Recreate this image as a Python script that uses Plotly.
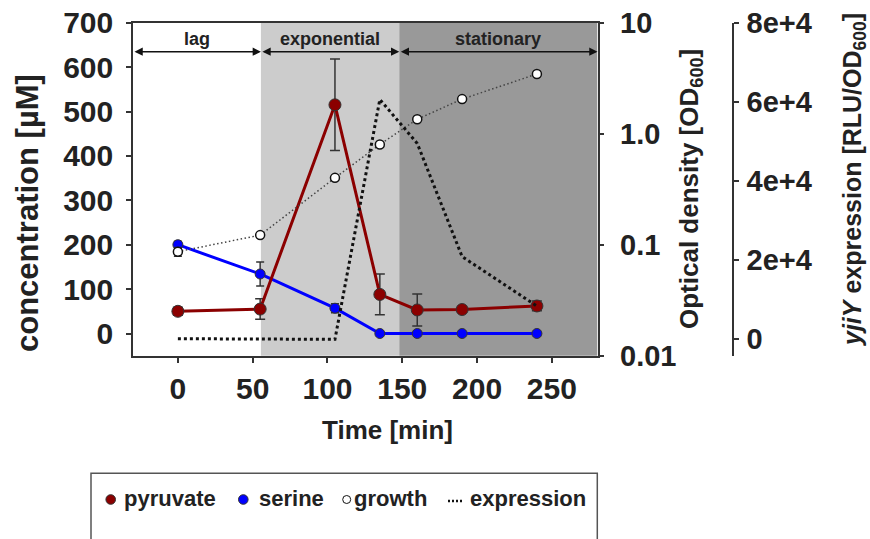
import plotly.graph_objects as go

# ---------------- data ----------------
time_min = [0, 55, 105, 135, 160, 190, 240]
pyruvate = [50, 55, 515, 88, 53, 54, 62]
pyruvate_err = [9, 23, 103, 46, 36, 3, 11]
serine = [200, 134, 57, 0, 0, 0, 0]
serine_err = [8, 27, 10, 0, 0, 0, 0]
growth_od = [0.0865, 0.122, 0.40, 0.80, 1.35, 2.05, 3.45]
growth_err = [0.008, 0, 0, 0, 0, 0, 0]
expression = [150, 150, 0, 60600, 49500, 20900, 8400]

phase_names = ["lag", "exponential", "stationary"]
phase_bounds = [-30, 55.5, 148, 280.5]
phase_colors = ["#ffffff", "#cccccc", "#999999"]

time_ticks = [0, 50, 100, 150, 200, 250]
conc_ticks = [0, 100, 200, 300, 400, 500, 600, 700]
od_ticks = [0.01, 0.1, 1, 10]
od_ticktext = ["0.01", "0.1", "1.0", "10"]
expr_ticks = [0, 20000, 40000, 60000, 80000]
expr_ticktext = ["0", "2e+4", "4e+4", "6e+4", "8e+4"]

legend_labels = ["pyruvate", "serine", "growth", "expression"]

# ---------------- layout geometry ----------------
W, H = 870, 539
def px_x(p):
    return p / W
def px_y(p):
    return 1 - p / H

x_dom = [px_x(133), px_x(597.5)]
y_dom = [px_y(355.7), px_y(22.7)]

FONT = "Liberation Sans, Arial, Helvetica, sans-serif"
TXT = "#222222"
AX = "#333333"
DARKRED = "#8b0000"
BLUE = "#0000ff"

fig = go.Figure()

fig.add_trace(go.Scatter(
    x=time_min, y=serine, mode="lines+markers", yaxis="y",
    line=dict(color=BLUE, width=3),
    marker=dict(size=10, color=BLUE, line=dict(color=AX, width=1)),
    error_y=dict(type="data", array=serine_err, color=AX, thickness=1.5, width=4),
    showlegend=False, name="serine"))

fig.add_trace(go.Scatter(
    x=time_min, y=pyruvate, mode="lines+markers", yaxis="y",
    line=dict(color=DARKRED, width=3),
    marker=dict(size=12, color=DARKRED, line=dict(color=AX, width=1)),
    error_y=dict(type="data", array=pyruvate_err, color=AX, thickness=1.5, width=5),
    showlegend=False, name="pyruvate"))

fig.add_trace(go.Scatter(
    x=time_min, y=growth_od, mode="lines+markers", yaxis="y2",
    line=dict(color="#444444", width=1.5, dash="1.5px,2.5px"),
    marker=dict(size=9, color="white", line=dict(color="#111111", width=1.5)),
    error_y=dict(type="data", array=growth_err, color=AX, thickness=1.5, width=4),
    showlegend=False, name="growth"))

fig.add_trace(go.Scatter(
    x=time_min, y=expression, mode="lines", yaxis="y3",
    line=dict(color="#111111", width=3, dash="3px,3px"),
    showlegend=False, name="expression"))

# phase background bands
shapes = []
for i in range(3):
    shapes.append(dict(type="rect", xref="x", yref="y domain",
                       x0=phase_bounds[i], x1=phase_bounds[i + 1], y0=0, y1=1,
                       fillcolor=phase_colors[i], line=dict(width=0), layer="below"))

annotations = []
arrow_y = 634.7
label_y = 663
for i, name in enumerate(phase_names):
    a, b = phase_bounds[i], phase_bounds[i + 1]
    annotations.append(dict(x=b, y=arrow_y, ax=a, ay=arrow_y, xref="x", yref="y",
                            axref="x", ayref="y", text="", showarrow=True,
                            arrowside="end+start", arrowhead=2, startarrowhead=2,
                            arrowsize=1.1, startarrowsize=1.1, arrowwidth=1.5,
                            arrowcolor="#111111", standoff=0, startstandoff=0))
    annotations.append(dict(x=(a + b) / 2, y=label_y, xref="x", yref="y",
                            text=name, showarrow=False, xanchor="center", yanchor="middle",
                            font=dict(family=FONT, size=18, color=TXT, weight="bold")))

# axis titles
annotations += [
    dict(x=px_x(27), y=px_y(213), xref="paper", yref="paper", text="concentration [µM]",
         textangle=-90, showarrow=False, xanchor="center", yanchor="middle",
         font=dict(family=FONT, size=31, color=TXT, weight="bold")),
    dict(x=px_x(690), y=px_y(189), xref="paper", yref="paper",
         text="Optical density [OD<sub>600</sub>]",
         textangle=-90, showarrow=False, xanchor="center", yanchor="middle",
         font=dict(family=FONT, size=26, color=TXT, weight="bold")),
    dict(x=px_x(854), y=px_y(180), xref="paper", yref="paper",
         text="<i>yjiY</i> expression [RLU/OD<sub>600</sub>]",
         textangle=-90, showarrow=False, xanchor="center", yanchor="middle",
         font=dict(family=FONT, size=25, color=TXT, weight="bold")),
    dict(x=px_x(387), y=px_y(430), xref="paper", yref="paper", text="Time [min]",
         showarrow=False, xanchor="center", yanchor="middle",
         font=dict(family=FONT, size=26, color=TXT, weight="bold")),
]

# legend (drawn manually)
shapes.append(dict(type="rect", xref="paper", yref="paper",
                   x0=px_x(91), x1=px_x(597.3), y0=px_y(560), y1=px_y(473.3),
                   line=dict(color="#555555", width=1.5), fillcolor="rgba(0,0,0,0)"))
leg_marker_x = [110.7, 243.3, 346.7]
leg_fill = [DARKRED, BLUE, "white"]
leg_line = [AX, AX, "#111111"]
leg_r = [4.8, 4.8, 4.0]
for mx, fc, lc, r in zip(leg_marker_x, leg_fill, leg_line, leg_r):
    shapes.append(dict(type="circle", xref="paper", yref="paper",
                       xsizemode="pixel", ysizemode="pixel",
                       xanchor=px_x(mx), yanchor=px_y(499.5),
                       x0=-r, x1=r, y0=-r, y1=r,
                       fillcolor=fc, line=dict(color=lc, width=1)))
shapes.append(dict(type="line", xref="paper", yref="paper",
                   x0=px_x(448), x1=px_x(464), y0=px_y(501), y1=px_y(501),
                   line=dict(color="#111111", width=2.5, dash="2px,2px")))
leg_text_x = [121.7, 256.7, 351.7, 468.3]
for tx, lab in zip(leg_text_x, legend_labels):
    annotations.append(dict(x=px_x(tx), y=px_y(498), xref="paper", yref="paper",
                            text=lab, showarrow=False, xanchor="left", yanchor="middle",
                            font=dict(family=FONT, size=22, color=TXT, weight="bold")))

tickfont = dict(family=FONT, size=30, color=TXT, weight="bold")
tickfont_r = dict(family=FONT, size=29, color=TXT, weight="bold")

fig.update_layout(
    width=W, height=H, margin=dict(l=0, r=0, t=0, b=0, autoexpand=False),
    paper_bgcolor="white", plot_bgcolor="white",
    font=dict(family=FONT, color=TXT),
    showlegend=False,
    xaxis=dict(domain=x_dom, range=[-30, 280.5], tickvals=time_ticks,
               ticks="outside", ticklen=6, tickwidth=1.5, tickcolor=AX,
               showline=True, linecolor=AX, linewidth=1.5, mirror=True,
               showgrid=False, zeroline=False, tickfont=tickfont),
    yaxis=dict(domain=y_dom, range=[-50, 700], tickvals=conc_ticks,
               ticks="outside", ticklen=5, tickwidth=1.5, tickcolor=AX,
               showline=True, linecolor=AX, linewidth=1.5, ticklabelstandoff=7,
               showgrid=False, zeroline=False, tickfont=tickfont),
    yaxis2=dict(overlaying="y", side="right", anchor="x", type="log", range=[-2, 1],
                tickvals=od_ticks, ticktext=od_ticktext,
                ticks="outside", ticklen=5, tickwidth=1.5, tickcolor=AX,
                showline=True, linecolor=AX, linewidth=1.5, ticklabelstandoff=10,
                showgrid=False, zeroline=False, tickfont=tickfont_r),
    yaxis3=dict(overlaying="y", side="right", anchor="free", position=px_x(733),
                range=[-4141, 80000], tickvals=expr_ticks, ticktext=expr_ticktext,
                ticks="outside", ticklen=5, tickwidth=1.5, tickcolor=AX,
                showline=True, linecolor=AX, linewidth=1.5, ticklabelstandoff=2,
                showgrid=False, zeroline=False, tickfont=tickfont_r),
    shapes=shapes,
    annotations=annotations,
)

fig.write_html("out.html", config={"displayModeBar": False},
               post_script="document.body.style.margin='0';")
